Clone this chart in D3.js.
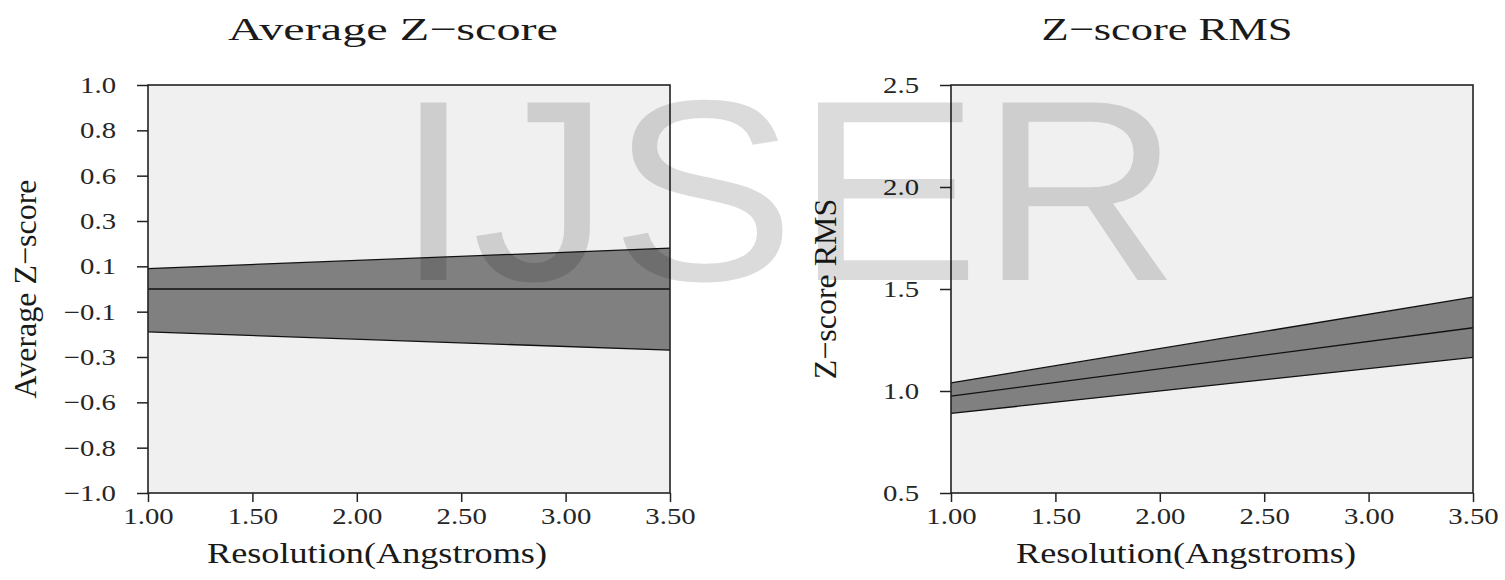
<!DOCTYPE html>
<html>
<head>
<meta charset="utf-8">
<script src="https://cdn.jsdelivr.net/npm/d3@7"></script>
<style>
  body { margin: 0; background: #fff; }
  text { font-family: "Liberation Serif", "Times New Roman", serif; }
</style>
</head>
<body>
<svg width="1505" height="580"></svg>
<script>
(function(){
    'use strict';

    // data (values at 1.00 and 3.50 Angstroms)
    const resolution = [1.0, 3.5];
    const avgMean  = [0.0, 0.0];
    const avgUpper = [0.10, 0.20];
    const avgLower = [-0.21, -0.30];
    const rmsMean  = [0.975, 1.31];
    const rmsUpper = [1.04, 1.46];
    const rmsLower = [0.89, 1.165];

    const xTicks = [1.0, 1.5, 2.0, 2.5, 3.0, 3.5];
    const avgTickLabels = ["\u22121.0", "\u22120.8", "\u22120.6", "\u22120.3", "\u22120.1",
                           "0.1", "0.3", "0.6", "0.8", "1.0"];
    const rmsTicks = [0.5, 1.0, 1.5, 2.0, 2.5];

    const svg = d3.select("svg");

    // the picture is a bit wider than tall, so widen text the same way
    function stretch(sel, k) {
        sel.each(function() {
            const w = this.getComputedTextLength();
            d3.select(this).attr("textLength", w * k).attr("lengthAdjust", "spacingAndGlyphs");
        });
    }

    function panel(opt) {
        const g = svg.append("g");
        const x = d3.scaleLinear().domain([1.0, 3.5]).range([opt.left, opt.right]);
        const y = d3.scaleLinear().domain(opt.yDomain).range([493, 85]);

        g.append("rect")
            .attr("x", opt.left).attr("y", 85)
            .attr("width", opt.right - opt.left).attr("height", 408)
            .attr("fill", "#f0f0f0");

        const rows = resolution.map((r, i) => ({ r: r, m: opt.mean[i], lo: opt.lower[i], hi: opt.upper[i] }));

        g.append("path")
            .datum(rows)
            .attr("d", d3.area().x(d => x(d.r)).y0(d => y(d.lo)).y1(d => y(d.hi)))
            .attr("fill", "#808080");

        const line = key => d3.line().x(d => x(d.r)).y(d => y(d[key]));
        ["hi", "m", "lo"].forEach(k => {
            g.append("path")
                .datum(rows)
                .attr("d", line(k))
                .attr("fill", "none")
                .attr("stroke", "#111")
                .attr("stroke-width", 1.3);
        });

        g.append("rect")
            .attr("x", opt.left).attr("y", 85)
            .attr("width", opt.right - opt.left).attr("height", 408)
            .attr("fill", "none")
            .attr("stroke", "#222")
            .attr("stroke-width", 1.6);

        // axes
        const xa = g.append("g").attr("transform", "translate(0,493)")
            .call(d3.axisBottom(x).tickValues(xTicks).tickFormat(d3.format(".2f"))
                .tickSize(9).tickPadding(6));
        const ya = g.append("g").attr("transform", `translate(${opt.left},0)`)
            .call(d3.axisLeft(y).tickValues(opt.yTicks).tickFormat(opt.yFormat)
                .tickSize(11).tickPadding(21));
        [xa, ya].forEach(a => {
            a.select(".domain").remove();
            a.selectAll(".tick line").attr("stroke", "#222").attr("stroke-width", 1.5);
            a.selectAll(".tick text")
                .attr("fill", "#262626")
                .style("font-size", "23px")
                .call(stretch, 1.25);
        });

        // titles
        g.append("text")
            .attr("x", opt.titleX).attr("y", 40)
            .attr("text-anchor", "middle")
            .style("font-size", "32px")
            .attr("fill", "#1a1a1a")
            .text(opt.title)
            .attr("textLength", opt.titleW)
            .attr("lengthAdjust", "spacingAndGlyphs");
        g.append("text")
            .attr("x", opt.xTitleX).attr("y", 563)
            .attr("text-anchor", "middle")
            .style("font-size", "30px")
            .attr("fill", "#1a1a1a")
            .text("Resolution(Angstroms)")
            .attr("textLength", 340)
            .attr("lengthAdjust", "spacingAndGlyphs");
        g.append("text")
            .attr("transform", `translate(${opt.yTitleX},289) rotate(-90)`)
            .attr("text-anchor", "middle")
            .style("font-size", "32px")
            .attr("fill", "#1a1a1a")
            .text(opt.title);
    }

    panel({
        left: 148, right: 670,
        yDomain: [-1, 1],
        yTicks: d3.range(10).map(i => -1 + i * 2 / 9),
        yFormat: (d, i) => avgTickLabels[i],
        mean: avgMean, upper: avgUpper, lower: avgLower,
        title: "Average Z\u2212score", titleW: 330,
        titleX: 393, xTitleX: 377, yTitleX: 36
    });

    panel({
        left: 951, right: 1473,
        yDomain: [0.5, 2.5],
        yTicks: rmsTicks,
        yFormat: d3.format(".1f"),
        mean: rmsMean, upper: rmsUpper, lower: rmsLower,
        title: "Z\u2212score RMS", titleW: 251,
        titleX: 1167, xTitleX: 1186, yTitleX: 836
    });

    // watermark over the whole figure
    svg.append("text")
        .attr("x", 395).attr("y", 280)
        .attr("textLength", 785)
        .attr("lengthAdjust", "spacingAndGlyphs")
        .style("font-family", "'Liberation Sans', Arial, sans-serif")
        .style("font-size", "258px")
        .attr("fill", "#000")
        .attr("fill-opacity", 0.14)
        .text("IJSER");
})();
</script>
</body>
</html>
